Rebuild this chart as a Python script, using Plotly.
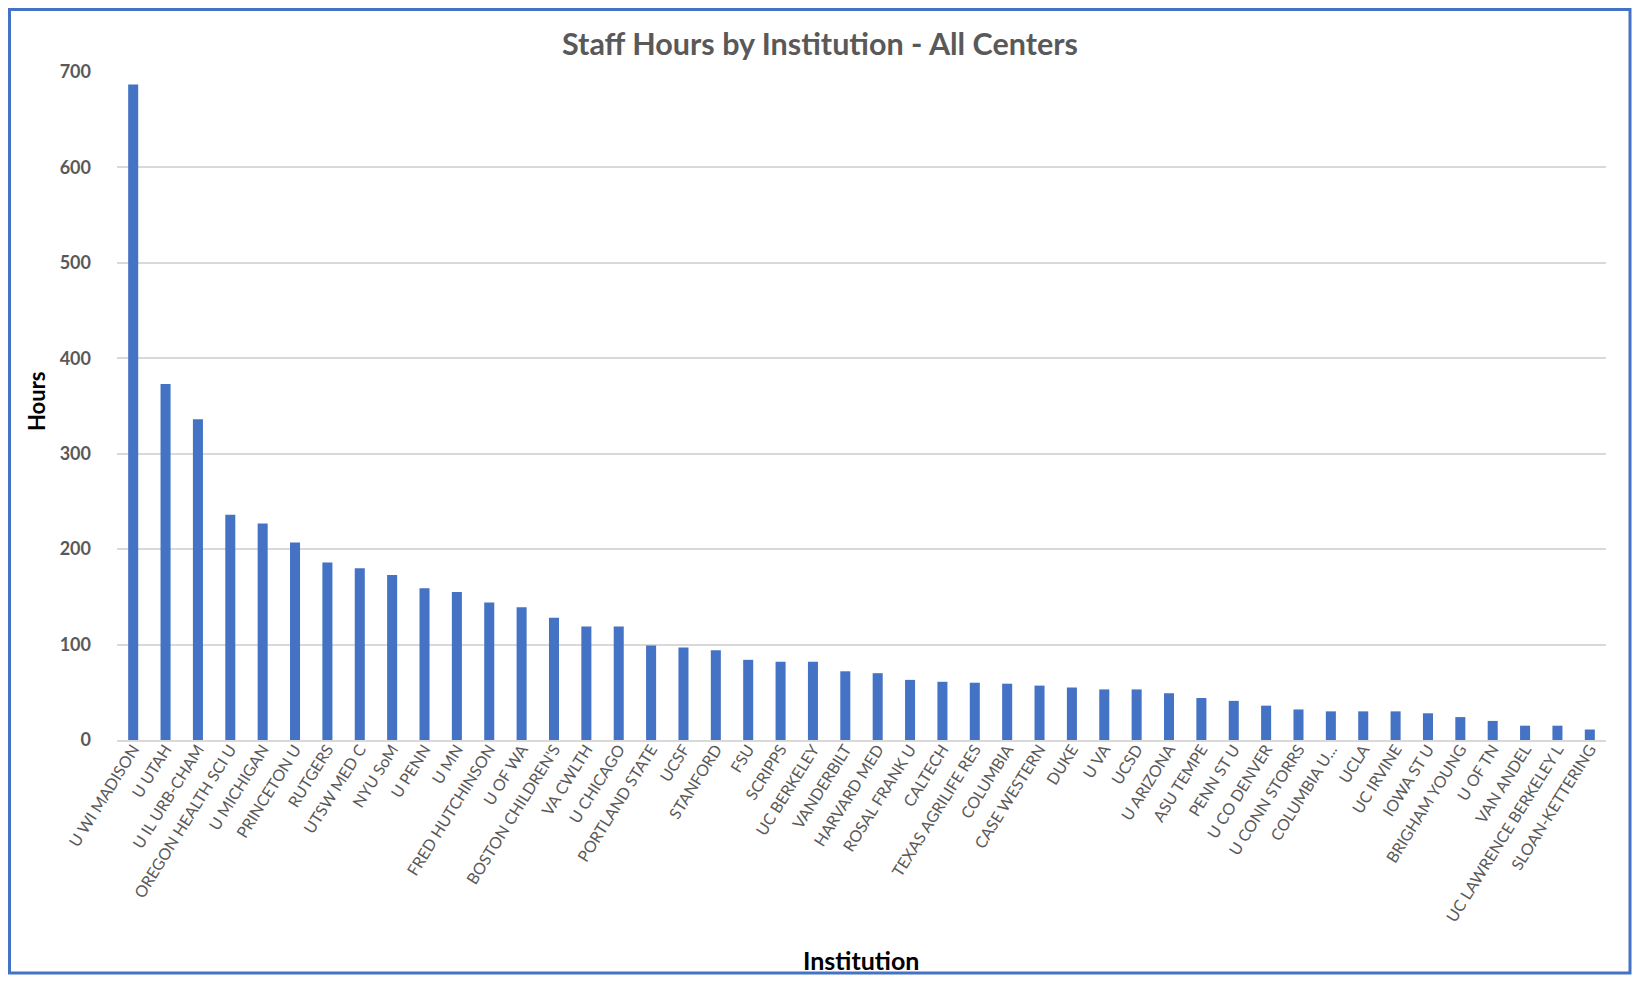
import plotly.graph_objects as go

institutions = [
    "U WI MADISON", "U UTAH", "U IL URB-CHAM", "OREGON HEALTH SCI U", "U MICHIGAN",
    "PRINCETON U", "RUTGERS", "UTSW MED C", "NYU SoM", "U PENN", "U MN",
    "FRED HUTCHINSON", "U OF WA", "BOSTON CHILDREN'S", "VA CWLTH", "U CHICAGO",
    "PORTLAND STATE", "UCSF", "STANFORD", "FSU", "SCRIPPS", "UC BERKELEY",
    "VANDERBILT", "HARVARD MED", "ROSAL FRANK U", "CALTECH", "TEXAS AGRILIFE RES",
    "COLUMBIA", "CASE WESTERN", "DUKE", "U VA", "UCSD", "U ARIZONA", "ASU TEMPE",
    "PENN ST U", "U CO DENVER", "U CONN STORRS", "COLUMBIA U...", "UCLA",
    "UC IRVINE", "IOWA ST U", "BRIGHAM YOUNG", "U OF TN", "VAN ANDEL",
    "UC LAWRENCE BERKELEY L", "SLOAN-KETTERING",
]
hours = [
    687, 373, 336, 236, 227, 207, 186, 180, 173, 159, 155,
    144, 139, 128, 119, 119, 99, 97, 94, 84, 82, 82,
    72, 70, 63, 61, 60, 59, 57, 55, 53, 53, 49, 44,
    41, 36, 32, 30, 30, 30, 28, 24, 20, 15, 15, 11,
]

OFF = 8  # page body margin
W, H = 1640 - 2 * OFF, 983 - 2 * OFF
# plot area in reference (screen) pixel coordinates
PX0, PX1, PY0, PY1 = 117, 1606, 72, 740
L = PX0 - OFF
R = W - (PX1 - OFF)
T = PY0 - OFF
B = H - (PY1 - OFF)
pw, ph = PX1 - PX0, PY1 - PY0


def px(x):
    return (x - PX0) / pw


def py(y):
    return (PY1 - y) / ph


FONT = "Lato, 'Open Sans', sans-serif"

fig = go.Figure(go.Bar(
    x=institutions, y=hours, marker_color="#4472C4", marker_line_width=0,
))

fig.update_layout(
    width=W, height=H,
    margin=dict(l=L, r=R, t=T, b=B),
    paper_bgcolor="white", plot_bgcolor="white",
    bargap=0.69,
    showlegend=False,
    font=dict(family=FONT, color="#595959"),
    title=dict(
        text="<b>Staff Hours by Institution - All Centers</b>",
        x=(820 - OFF) / W, xref="container", xanchor="center",
        y=1 - (44 - OFF) / H, yref="container", yanchor="middle",
        font=dict(size=30.5, color="#595959", family=FONT),
    ),
    xaxis=dict(
        type="category", tickangle=-58,
        tickfont=dict(size=16, color="#595959", family=FONT),
        showgrid=False, showline=True, linecolor="#D9D9D9", linewidth=1.5,
        ticks="", ticklabelstandoff=-8,
    ),
    yaxis=dict(
        range=[0, 700], dtick=100, tick0=0,
        showgrid=True, gridcolor="#D9D9D9", gridwidth=1.5,
        zeroline=False, showline=False, ticks="",
        tickfont=dict(size=18, color="#595959", family=FONT, weight=700),
        ticklabelstandoff=25,
    ),
    annotations=[
        dict(text="<b>Hours</b>", x=px(36), y=py(401), xref="paper", yref="paper",
             textangle=-90, showarrow=False, xanchor="center", yanchor="middle",
             font=dict(size=22, color="black", family=FONT)),
        dict(text="<b>Institution</b>", x=px(861), y=py(960), xref="paper", yref="paper",
             showarrow=False, xanchor="center", yanchor="middle",
             font=dict(size=25, color="black", family=FONT)),
    ],
    shapes=[
        dict(type="rect", xref="paper", yref="paper",
             x0=px(OFF + 1.5), x1=px(OFF + W - 2), y0=py(OFF + H - 2), y1=py(OFF + 1.5),
             line=dict(color="#4472C4", width=3), fillcolor="rgba(0,0,0,0)",
             layer="above"),
    ],
)

fig.write_html("out.html")
